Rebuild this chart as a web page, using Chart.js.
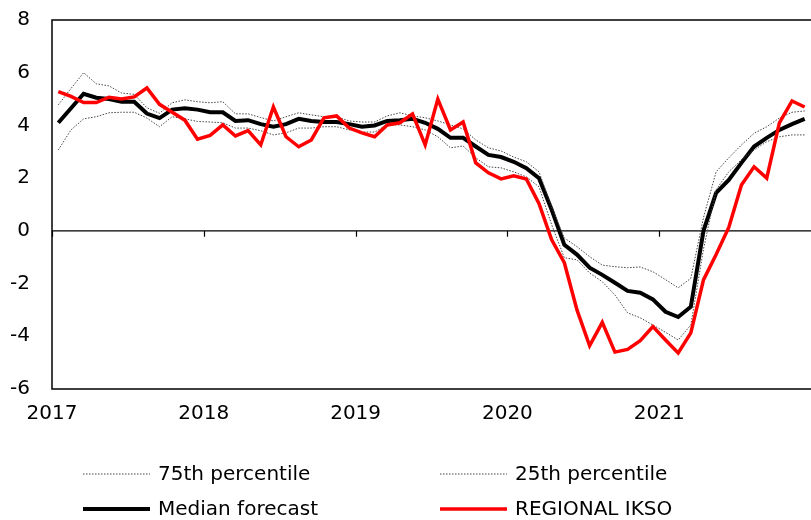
<!DOCTYPE html>
<html>
<head>
<meta charset="utf-8">
<script src="https://cdn.jsdelivr.net/npm/chart.js@4/dist/chart.umd.min.js"></script>
<style>
  html, body { margin: 0; padding: 0; background: #fff; }
  #wrap { width: 811px; height: 520px; }
</style>
</head>
<body>
<div id="wrap"><canvas id="myChart"></canvas></div>
<script>
const yearLabels = ["2017", "2018", "2019", "2020", "2021"];
const monthsPerYear = 12;

// monthly categories, Jan 2017 .. Dec 2021
const months = [];
yearLabels.forEach((year) => {
  for (let m = 1; m <= monthsPerYear; m++) {
    months.push(year + "-" + String(m).padStart(2, "0"));
  }
});

const p75 = [
  4.78, 5.4, 6.0, 5.58, 5.5, 5.23, 5.18, 4.67, 4.46, 4.86, 4.97, 4.9,
  4.86, 4.9, 4.44, 4.44, 4.3, 4.17, 4.33, 4.48, 4.4, 4.33, 4.33, 4.17,
  4.13, 4.13, 4.36, 4.48, 4.36, 4.29, 4.17, 4.02, 3.87, 3.45, 3.15, 3.03,
  2.8, 2.62, 2.24, 0.9, -0.27, -0.6, -0.98, -1.3, -1.36, -1.4, -1.37, -1.55,
  -1.85, -2.16, -1.8, 0.5, 2.24, 2.77, 3.26, 3.7, 3.95, 4.28, 4.5, 4.55
];

const p25 = [
  3.07, 3.83, 4.25, 4.33, 4.48, 4.5, 4.5, 4.28, 3.95, 4.33, 4.25, 4.15,
  4.13, 4.1, 3.9, 3.9, 3.8, 3.64, 3.72, 3.9, 3.9, 3.95, 3.95, 3.83,
  3.75, 3.75, 4.02, 4.02, 3.95, 3.83, 3.57, 3.15, 3.22, 2.77, 2.43, 2.39,
  2.24, 2.05, 1.67, 0.23, -1.02, -1.1, -1.6, -1.93, -2.43, -3.11, -3.3, -3.57,
  -3.85, -4.14, -3.57, -0.7, 1.56, 2.24, 2.7, 3.07, 3.38, 3.57, 3.64, 3.64
];

const median = [
  4.1, 4.65, 5.2, 5.05, 5.0, 4.9, 4.9, 4.45, 4.28, 4.6, 4.65, 4.6,
  4.5, 4.5, 4.17, 4.2, 4.05, 3.95, 4.05, 4.25, 4.17, 4.13, 4.13, 4.05,
  3.95, 4.0, 4.17, 4.2, 4.25, 4.1, 3.87, 3.53, 3.53, 3.2, 2.88, 2.8,
  2.62, 2.38, 2.0, 0.8, -0.53, -0.9, -1.4, -1.67, -1.97, -2.28, -2.35, -2.6,
  -3.07, -3.27, -2.88, 0.0, 1.44, 1.93, 2.58, 3.2, 3.53, 3.83, 4.05, 4.25
];

const ikso = [
  5.28, 5.1, 4.87, 4.87, 5.07, 5.0, 5.08, 5.42, 4.8, 4.5, 4.2, 3.48,
  3.62, 4.02, 3.6, 3.8, 3.26, 4.7, 3.57, 3.19, 3.45, 4.29, 4.36, 3.9,
  3.72, 3.57, 4.02, 4.1, 4.44, 3.26, 5.0, 3.83, 4.13, 2.58, 2.2, 1.97,
  2.09, 1.97, 1.03, -0.34, -1.21, -3.0, -4.36, -3.47, -4.6, -4.5, -4.17, -3.63,
  -4.14, -4.63, -3.87, -1.86, -0.9, 0.13, 1.74, 2.43, 2.0, 4.1, 4.93, 4.7
];

const seriesNames = ["75th percentile", "25th percentile", "Median forecast", "REGIONAL IKSO"];

const FONT = { family: "'DejaVu Sans', sans-serif", size: 20 };

function toPoints(values) {
  return values.map((v, i) => ({ x: i + 0.5, y: v }));
}

// frame, zero axis and its year tick marks
const framePlugin = {
  id: "frame",
  beforeDatasetsDraw(chart) {
    const ctx = chart.ctx;
    const area = chart.chartArea;
    const xs = chart.scales.x;
    const ys = chart.scales.y;
    ctx.save();
    ctx.strokeStyle = "#000";
    ctx.lineWidth = 1.5;
    ctx.beginPath();
    ctx.moveTo(area.right, area.top);
    ctx.lineTo(area.left, area.top);
    ctx.lineTo(area.left, area.bottom);
    ctx.lineTo(area.right, area.bottom);
    ctx.stroke();

    const y0 = ys.getPixelForValue(0);
    ctx.lineWidth = 1.2;
    ctx.beginPath();
    ctx.moveTo(area.left, y0);
    ctx.lineTo(area.right, y0);
    yearLabels.forEach((_, i) => {
      const x = Math.round(xs.getPixelForValue(i * monthsPerYear)) + 0.5;
      ctx.moveTo(x, y0);
      ctx.lineTo(x, y0 + 6);
    });
    ctx.stroke();
    ctx.restore();
  },
};

// two-column legend under the axis
const legendPlugin = {
  id: "twoColLegend",
  afterDraw(chart) {
    const ctx = chart.ctx;
    const cols = [83, 440];
    const rows = [474, 509];
    const sampleLen = 67;
    ctx.save();
    ctx.font = FONT.size + "px " + FONT.family;
    ctx.textBaseline = "middle";
    ctx.fillStyle = "#000";
    chart.data.datasets.forEach((ds, i) => {
      const x = cols[i % 2];
      const y = rows[Math.floor(i / 2)];
      ctx.save();
      ctx.strokeStyle = ds.borderColor;
      ctx.lineWidth = ds.borderWidth;
      ctx.setLineDash(ds.borderDash || []);
      ctx.beginPath();
      ctx.moveTo(x, y);
      ctx.lineTo(x + sampleLen, y);
      ctx.stroke();
      ctx.restore();
      ctx.fillText(ds.label, x + sampleLen + 8, y + 1);
    });
    ctx.restore();
  },
};

Chart.defaults.font.family = FONT.family;
Chart.defaults.font.size = FONT.size;
Chart.defaults.color = "#000";

new Chart(document.getElementById("myChart").getContext("2d"), {
  type: "line",
  data: {
    labels: months,
    datasets: [
      {
        label: seriesNames[0],
        data: toPoints(p75),
        borderColor: "#444",
        borderWidth: 1,
        borderDash: [1.5, 1.5],
        pointRadius: 0,
        order: 1,
      },
      {
        label: seriesNames[1],
        data: toPoints(p25),
        borderColor: "#444",
        borderWidth: 1,
        borderDash: [1.5, 1.5],
        pointRadius: 0,
        order: 1,
      },
      {
        label: seriesNames[2],
        data: toPoints(median),
        borderColor: "#000",
        borderWidth: 4,
        pointRadius: 0,
        order: 2,
      },
      {
        label: seriesNames[3],
        data: toPoints(ikso),
        borderColor: "#ff0000",
        borderWidth: 3.5,
        pointRadius: 0,
        order: 0,
      },
    ],
  },
  options: {
    responsive: true,
    maintainAspectRatio: false,
    animation: false,
    events: [],
    layout: {
      padding: { top: 20, right: 0, bottom: 91, left: 0 },
    },
    plugins: {
      legend: { display: false },
      tooltip: { enabled: false },
    },
    scales: {
      x: {
        type: "linear",
        min: 0,
        max: months.length,
        grid: { display: false },
        border: { display: false },
        afterBuildTicks: (scale) => {
          scale.ticks = yearLabels.map((_, i) => ({ value: i * monthsPerYear }));
        },
        afterFit: (scale) => {
          scale.height = 40;
          scale.paddingLeft = 0;
          scale.paddingRight = 0;
        },
        ticks: {
          autoSkip: false,
          maxRotation: 0,
          padding: 5,
          callback: (value) => yearLabels[value / monthsPerYear],
        },
      },
      y: {
        min: -6,
        max: 8,
        grid: { display: false },
        border: { display: false },
        afterFit: (scale) => {
          scale.width = 52;
          scale.paddingTop = 0;
          scale.paddingBottom = 0;
        },
        ticks: {
          stepSize: 2,
          padding: 14,
        },
      },
    },
  },
  plugins: [framePlugin, legendPlugin],
});
</script>
</body>
</html>
